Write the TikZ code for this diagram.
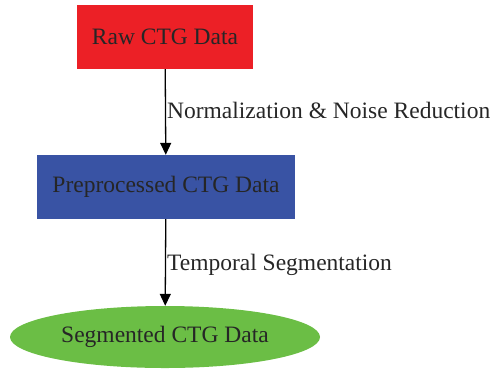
\documentclass[tikz,border=0pt]{standalone}
\usepackage{fontspec}
\setmainfont{Liberation Serif}
\usetikzlibrary{shapes.geometric,arrows.meta}
\begin{document}
\begin{tikzpicture}[x=1pt,y=-1pt,
  box/.style={draw=none,minimum width=#1,minimum height=64pt,inner sep=0pt,font=\fontsize{23.5}{26}\selectfont,text=black!85},
  arr/.style={draw=black,line width=1.3pt,-{Triangle[length=12pt,width=11pt]}},
  lbl/.style={anchor=west,font=\fontsize{23.5}{26}\selectfont,text=black!85,inner sep=0pt}]
\useasboundingbox (0,0) rectangle (492,368);
\node[box=176pt,fill={rgb,255:red,236;green,32;blue,38}] (raw) at (165,37) {Raw CTG Data};
\node[box=258pt,fill={rgb,255:red,57;green,83;blue,164}] (pre) at (166,187) {Preprocessed CTG Data};
\node[ellipse,box=310pt,minimum height=62pt,fill={rgb,255:red,107;green,190;blue,69}] (seg) at (165,337) {Segmented CTG Data};
\draw[arr] (raw) -- (pre) node[midway,lbl,xshift=1pt,yshift=1.5pt] (l1) {Normalization \& Noise Reduction};
\draw[arr] (pre) -- (seg) node[midway,lbl,xshift=1pt,yshift=-2pt] (l2) {Temporal Segmentation};
\end{tikzpicture}
\end{document}
